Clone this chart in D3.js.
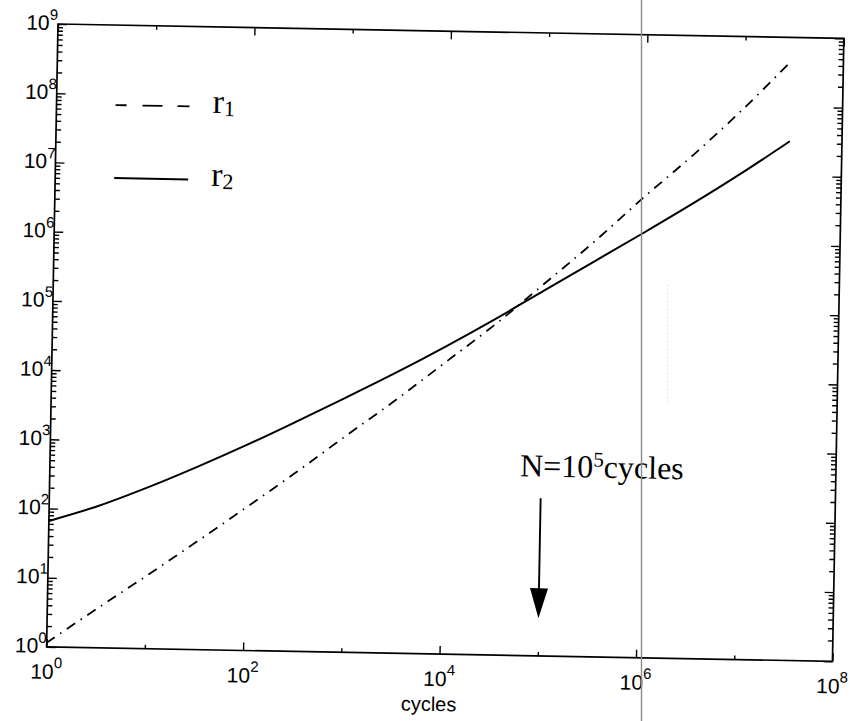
<!DOCTYPE html>
<html>
<head>
<meta charset="utf-8">
<script src="https://cdn.jsdelivr.net/npm/d3@7"></script>
<style>
  html, body { margin: 0; padding: 0; background: #fff; }
  svg { display: block; }
</style>
</head>
<body>
<svg id="chart" width="853" height="721"></svg>
<script>
// Number of cycles at which the two quantities are sampled
const cycles = [1, 3.16, 10, 31.6, 100, 316, 1e3, 3.16e3, 1e4, 3.16e4, 1e5, 3.16e5, 1e6, 3.16e6, 1e7, 2.95e7];
// r1 (dash-dot curve)
const r1 = [1.15, 3.63, 11.2, 35.5, 115, 380, 1320, 4470, 16200, 58900, 240000, 1.0e6, 4.57e6, 1.95e7, 9.33e7, 4.57e8];
// r2 (solid curve)
const r2 = [66.1, 112, 214, 437, 933, 2090, 4790, 11200, 27500, 70800, 191000, 513000, 1.38e6, 3.80e6, 1.10e7, 3.16e7];

// Axis label exponents
const xLabelExps = [0, 2, 4, 6, 8];
const yLabelExps = [0, 1, 2, 3, 4, 5, 6, 7, 8, 9];
const xTickExps = [0, 1, 2, 3, 4, 5, 6, 7, 8];

// Annotation: N = 1e5 cycles, arrow from 190 down to 3.5
const markCycles = 1e5;
const arrowFrom = 190;
const arrowTo = 3.5;
const noteAt = [6.1e4, 390];

const W = 786, H = 623;
const svg = d3.select("#chart");
const g = svg.append("g").attr("transform", "translate(58,24) rotate(1.05)");

const x = d3.scaleLog().domain([1, 1e8]).range([0, W]);
const y = d3.scaleLog().domain([1, 1e9]).range([H, 0]);

const xMajor = xLabelExps.map(e => Math.pow(10, e));
const xMinor = xTickExps.filter(e => !xLabelExps.includes(e)).map(e => Math.pow(10, e));
const yMajor = yLabelExps.map(e => Math.pow(10, e));
const yMinor = [];
for (let e = 0; e < 9; e++) for (let k = 2; k <= 9; k++) yMinor.push(k * Math.pow(10, e));

function styleAxis(sel) {
  sel.select(".domain").remove();
  sel.selectAll(".tick line").attr("stroke", "#000").attr("stroke-width", 1.4);
  sel.selectAll(".tick text").remove();
}

// bottom & top ticks (inward)
g.append("g").attr("transform", `translate(0,${H})`)
  .call(d3.axisBottom(x).tickValues(xMajor).tickSizeInner(-8).tickSizeOuter(0)).call(styleAxis);
g.append("g").attr("transform", `translate(0,${H})`)
  .call(d3.axisBottom(x).tickValues(xMinor).tickSizeInner(-4).tickSizeOuter(0)).call(styleAxis);
g.append("g")
  .call(d3.axisTop(x).tickValues(xMajor).tickSizeInner(-8).tickSizeOuter(0)).call(styleAxis);
g.append("g")
  .call(d3.axisTop(x).tickValues(xMinor).tickSizeInner(-4).tickSizeOuter(0)).call(styleAxis);

// left & right ticks (inward)
g.append("g")
  .call(d3.axisLeft(y).tickValues(yMajor).tickSizeInner(-9).tickSizeOuter(0)).call(styleAxis);
g.append("g")
  .call(d3.axisLeft(y).tickValues(yMinor).tickSizeInner(-5).tickSizeOuter(0)).call(styleAxis);
g.append("g").attr("transform", `translate(${W},0)`)
  .call(d3.axisRight(y).tickValues(yMajor).tickSizeInner(-9).tickSizeOuter(0)).call(styleAxis);
g.append("g").attr("transform", `translate(${W},0)`)
  .call(d3.axisRight(y).tickValues(yMinor).tickSizeInner(-5).tickSizeOuter(0)).call(styleAxis);

// frame
g.append("rect").attr("x", 0).attr("y", 0).attr("width", W).attr("height", H)
  .attr("fill", "none").attr("stroke", "#000").attr("stroke-width", 1.7);

// power-of-ten labels
function powerLabel(sel, supDy) {
  sel.each(function (e) {
    const t = d3.select(this);
    t.append("tspan").text("10");
    t.append("tspan").attr("dy", supDy).attr("font-size", 15).text(e);
  });
}
g.selectAll(".xlab").data(xLabelExps).join("text")
  .attr("class", "xlab")
  .attr("x", e => x(Math.pow(10, e)))
  .attr("y", H + 32)
  .attr("text-anchor", "middle")
  .attr("font-family", "'Liberation Sans', Arial, sans-serif")
  .attr("font-size", 21)
  .call(powerLabel, -11);

g.selectAll(".ylab").data(yLabelExps).join("text")
  .attr("class", "ylab")
  .attr("x", 0)
  .attr("y", e => y(Math.pow(10, e)) + 6)
  .attr("text-anchor", "end")
  .attr("font-family", "'Liberation Sans', Arial, sans-serif")
  .attr("font-size", 21)
  .call(powerLabel, -10);

g.append("text")
  .attr("x", W / 2 - 10).attr("y", H + 57)
  .attr("text-anchor", "middle")
  .attr("font-family", "'Liberation Sans', Arial, sans-serif")
  .attr("font-size", 20)
  .text("cycles");

// curves
const line = (vals) => d3.line()
  .x((d, i) => x(cycles[i]))
  .y(d => y(d))
  .curve(d3.curveCatmullRom.alpha(0.5))(vals);

g.append("path").attr("d", line(r2))
  .attr("fill", "none").attr("stroke", "#000").attr("stroke-width", 2);
g.append("path").attr("d", line(r1))
  .attr("fill", "none").attr("stroke", "#000").attr("stroke-width", 1.8)
  .attr("stroke-dasharray", "10,6.5,1.5,6.5");

// legend
const legend = g.append("g").attr("font-family", "'Liberation Serif', 'Times New Roman', serif");
legend.append("line").attr("x1", 59).attr("x2", 133).attr("y1", 80).attr("y2", 80)
  .attr("stroke", "#000").attr("stroke-width", 1.8).attr("stroke-dasharray", "11,16,20,15,12");
legend.append("line").attr("x1", 59).attr("x2", 133).attr("y1", 153).attr("y2", 153)
  .attr("stroke", "#000").attr("stroke-width", 2);
[["1", 86], ["2", 159]].forEach(([sub, by]) => {
  const t = legend.append("text").attr("x", 156).attr("y", by).attr("font-size", 34);
  t.append("tspan").text("r");
  t.append("tspan").attr("dy", 3).attr("font-size", 22).text(sub);
});

// annotation arrow and label
const ax = x(markCycles);
const yTop = y(arrowFrom), yTip = y(arrowTo);
const headLen = 30, headHalf = 9;
g.append("line").attr("x1", ax).attr("x2", ax).attr("y1", yTop).attr("y2", yTip - headLen + 2)
  .attr("stroke", "#000").attr("stroke-width", 1.9);
g.append("path")
  .attr("d", `M${ax - headHalf},${yTip - headLen}L${ax + headHalf},${yTip - headLen}L${ax},${yTip}Z`)
  .attr("fill", "#000");
const note = g.append("text")
  .attr("x", x(noteAt[0])).attr("y", y(noteAt[1]))
  .attr("font-family", "'Liberation Serif', 'Times New Roman', serif")
  .attr("font-size", 32);
note.append("tspan").text("N=10");
note.append("tspan").attr("dy", -11).attr("font-size", 21).text("5");
note.append("tspan").attr("dy", 11).text("cycles");

// scanner fold line and faint trace beside it
svg.append("line").attr("x1", 641.5).attr("x2", 641.5).attr("y1", 0).attr("y2", 721)
  .attr("stroke", "#8c8c8c").attr("stroke-width", 1.4);
svg.append("line").attr("x1", 667.5).attr("x2", 667.5).attr("y1", 285).attr("y2", 405)
  .attr("stroke", "#d0d0d0").attr("stroke-width", 1).attr("stroke-dasharray", "1,3");
</script>
</body>
</html>
